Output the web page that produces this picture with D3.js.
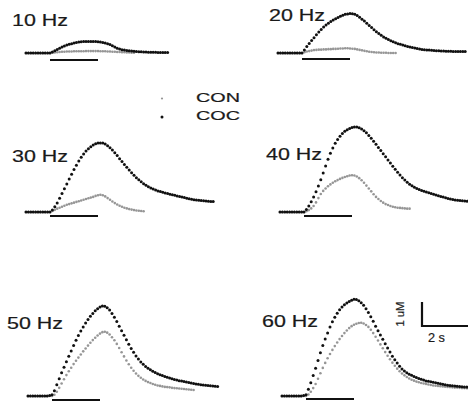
<!DOCTYPE html>
<html>
<head>
<meta charset="utf-8">
<script src="https://cdn.jsdelivr.net/npm/d3@7"></script>
<style>
  body { margin: 0; background: #fff; }
  svg { display: block; }
</style>
</head>
<body>
<div id="area"></div>
<script>
// sampling of the traces: first sample at -1 s, one sample every 0.1 s
var startTime = -1,
    sampleStep = 0.1,
    stimDuration = 2;   // s, the bar under each trace

var freqLabels = ['10 Hz', '20 Hz', '30 Hz', '40 Hz', '50 Hz', '60 Hz'];
var legendLabels = ['CON', 'COC'];
var scaleBarValue = 1,   // uM
    scaleBarTime = 2;    // s

// Ca2+ transients in uM, one value per sample
var coc10 = [0,0,0,0,0,0,0,0,0,0,
  0,0.04,0.09,0.15,0.2,0.25,0.29,0.33,0.36,0.39,
  0.42,0.44,0.46,0.47,0.48,0.48,0.48,0.48,0.48,0.48,
  0.47,0.46,0.44,0.42,0.39,0.35,0.3,0.25,0.2,0.17,
  0.14,0.12,0.1,0.09,0.08,0.07,0.06,0.05,0.05,0.04,
  0.04,0.03,0.03,0.03,0.03,0.02,0.02,0.02,0.02,0.02];
var con10 = [0,0,0,0,0,0,0,0,0,0,
  0,0.01,0.02,0.03,0.04,0.05,0.05,0.06,0.06,0.06,
  0.07,0.07,0.07,0.07,0.07,0.08,0.08,0.08,0.08,0.08,
  0.08,0.07,0.07,0.07,0.06,0.06,0.05,0.05,0.04,0.04,
  0.03,0.03,0.02,0.02,0.01,0.01];

var coc20 = [0,0,0,0,0,0,0,0,0,0,
  0,0.13,0.27,0.4,0.52,0.64,0.76,0.88,0.98,1.08,
  1.17,1.24,1.31,1.37,1.43,1.48,1.53,1.57,1.61,1.63,
  1.65,1.64,1.61,1.56,1.49,1.41,1.33,1.24,1.15,1.06,
  0.97,0.89,0.81,0.74,0.67,0.61,0.56,0.51,0.47,0.43,
  0.39,0.36,0.33,0.3,0.27,0.25,0.23,0.21,0.19,0.17,
  0.15,0.14,0.13,0.12,0.11,0.1,0.09,0.09,0.08,0.08,
  0.07,0.07,0.07,0.06,0.06,0.06,0.06,0.06,0.06];
var con20 = [0,0,0,0,0,0,0,0,0,0,
  0,0.03,0.06,0.08,0.1,0.12,0.13,0.14,0.14,0.15,
  0.15,0.16,0.16,0.17,0.17,0.18,0.19,0.19,0.2,0.2,
  0.19,0.18,0.17,0.15,0.13,0.11,0.09,0.07,0.05,0.04,
  0.03,0.02,0.02,0.01,0.01,0.01,0,0,0,0];

var coc30 = [0,0,0,0,0,0,0,0,0,0,
  0,0.08,0.22,0.38,0.57,0.77,0.97,1.17,1.37,1.57,
  1.77,1.95,2.12,2.28,2.42,2.54,2.64,2.72,2.79,2.84,
  2.87,2.88,2.87,2.83,2.76,2.68,2.58,2.47,2.35,2.22,
  2.1,1.98,1.86,1.75,1.64,1.53,1.43,1.34,1.26,1.18,
  1.11,1.05,1.0,0.96,0.92,0.88,0.85,0.82,0.79,0.77,
  0.74,0.72,0.7,0.67,0.65,0.62,0.6,0.57,0.55,0.53,
  0.51,0.5,0.49,0.48,0.47,0.46,0.45,0.44,0.44];
var con30 = [0,0,0,0,0,0,0,0,0,0,
  0,0.04,0.09,0.14,0.18,0.22,0.26,0.3,0.33,0.36,
  0.39,0.42,0.45,0.48,0.51,0.54,0.57,0.6,0.63,0.67,
  0.7,0.72,0.7,0.65,0.58,0.51,0.44,0.37,0.31,0.26,
  0.22,0.18,0.15,0.12,0.1,0.08,0.06,0.05,0.04,0.03];

var coc40 = [0,0,0,0,0,0,0,0,0,0,
  0,0.1,0.25,0.43,0.62,0.84,1.08,1.34,1.62,1.92,
  2.2,2.45,2.67,2.86,3.02,3.16,3.27,3.36,3.43,3.48,
  3.52,3.54,3.54,3.51,3.46,3.39,3.3,3.19,3.07,2.95,
  2.82,2.69,2.56,2.43,2.3,2.17,2.04,1.91,1.78,1.66,
  1.54,1.43,1.33,1.24,1.16,1.09,1.03,0.98,0.94,0.9,
  0.86,0.83,0.8,0.77,0.74,0.71,0.68,0.65,0.62,0.59,
  0.56,0.54,0.52,0.5,0.49,0.48,0.47,0.46,0.45];
var con40 = [0,0,0,0,0,0,0,0,0,0,
  0,0.03,0.08,0.15,0.25,0.4,0.58,0.75,0.88,0.98,
  1.07,1.15,1.22,1.28,1.33,1.38,1.42,1.46,1.49,1.52,
  1.53,1.52,1.48,1.41,1.32,1.22,1.1,0.98,0.86,0.74,
  0.63,0.54,0.46,0.39,0.33,0.29,0.25,0.22,0.2,0.18,
  0.17,0.16,0.15,0.14,0.14];

var coc50 = [0,0,0,0,0,0,0,0,0,0.02,
  0.05,0.22,0.47,0.72,0.97,1.2,1.43,1.66,1.88,2.1,
  2.32,2.52,2.71,2.88,3.04,3.19,3.32,3.44,3.55,3.64,
  3.71,3.75,3.74,3.68,3.58,3.44,3.28,3.1,2.91,2.72,
  2.53,2.34,2.16,1.98,1.82,1.67,1.54,1.42,1.32,1.23,
  1.16,1.09,1.03,0.98,0.93,0.89,0.85,0.81,0.78,0.75,
  0.72,0.69,0.67,0.64,0.62,0.6,0.58,0.56,0.54,0.52,
  0.5,0.49,0.47,0.46,0.45,0.44,0.43,0.42,0.41,0.4];
var con50 = [0,0,0,0,0,0,0,0,0,0,
  0,0.05,0.18,0.34,0.52,0.7,0.87,1.03,1.18,1.33,
  1.47,1.6,1.73,1.86,1.98,2.1,2.22,2.33,2.43,2.52,
  2.6,2.66,2.68,2.64,2.56,2.45,2.32,2.17,2.0,1.82,
  1.65,1.48,1.32,1.18,1.05,0.94,0.84,0.76,0.69,0.63,
  0.58,0.54,0.5,0.47,0.44,0.42,0.4,0.38,0.37,0.36,
  0.34,0.33,0.32,0.31,0.3,0.29,0.28,0.27,0.26,0.25];

var coc60 = [0,0,0,0,0,0,0,0,0,0.02,
  0.05,0.28,0.55,0.85,1.16,1.48,1.8,2.1,2.38,2.63,
  2.87,3.09,3.28,3.45,3.59,3.71,3.8,3.88,3.94,3.99,
  4.03,4.02,3.97,3.89,3.78,3.64,3.48,3.3,3.11,2.91,
  2.72,2.54,2.36,2.18,2.0,1.83,1.66,1.51,1.37,1.24,
  1.13,1.04,0.97,0.91,0.86,0.81,0.77,0.73,0.7,0.67,
  0.63,0.61,0.59,0.57,0.55,0.53,0.51,0.49,0.47,0.45,
  0.44,0.43,0.42,0.41,0.4,0.39,0.38,0.37,0.36];
var con60 = [0,0,0,0,0,0,0,0,0,0,
  0,0.06,0.18,0.33,0.5,0.72,0.95,1.17,1.38,1.57,
  1.75,1.92,2.08,2.23,2.37,2.5,2.62,2.73,2.83,2.91,
  2.97,3.01,3.04,3.05,3.02,2.96,2.88,2.76,2.62,2.47,
  2.31,2.15,1.99,1.83,1.68,1.53,1.39,1.26,1.14,1.03,
  0.94,0.86,0.79,0.73,0.68,0.64,0.6,0.57,0.54,0.52,
  0.5,0.48,0.46,0.44,0.43,0.42,0.41,0.4,0.39,0.38,
  0.37,0.36,0.35,0.35,0.34,0.33,0.33,0.32,0.32];

var width = 468,
    height = 404,
    pxPerSecond = 24,
    pxPerUM = 24;

var conColor = '#969696',
    cocColor = '#111111',
    textColor = '#1a1a1a',
    fontFamily = '"Liberation Sans", Arial, sans-serif';

// where each panel sits: stimulus onset (x0), baseline (y0), and its label box
var panels = [
  {label: freqLabels[0], coc: coc10, con: con10, x0: 50,  y0: 53,  barDy: 7, lx: 12,  ly: 26},
  {label: freqLabels[1], coc: coc20, con: con20, x0: 302, y0: 53,  barDy: 6, lx: 269, ly: 21},
  {label: freqLabels[2], coc: coc30, con: con30, x0: 50,  y0: 212, barDy: 4, lx: 12,  ly: 162},
  {label: freqLabels[3], coc: coc40, con: con40, x0: 304, y0: 212, barDy: 4, lx: 266, ly: 160},
  {label: freqLabels[4], coc: coc50, con: con50, x0: 52,  y0: 396, barDy: 4, lx: 7,   ly: 329},
  {label: freqLabels[5], coc: coc60, con: con60, x0: 306, y0: 396, barDy: 3, lx: 262, ly: 327}
];

var svg = d3.select('#area').append('svg')
    .attr('width', width)
    .attr('height', height)
    .style('background-color', '#fff');

function timeOf(i) {
  return startTime + i * sampleStep;
}

// text in the figure is a bit heavier than plain regular weight
function styleText(sel, size) {
  sel.attr('font-family', fontFamily)
     .attr('font-size', size)
     .attr('fill', textColor)
     .attr('stroke', textColor)
     .attr('stroke-width', 0.2);
}

panels.forEach(function(p) {
  var x = d3.scaleLinear()
      .domain([0, 1])
      .range([p.x0, p.x0 + pxPerSecond]);
  var y = d3.scaleLinear()
      .domain([0, 1])
      .range([p.y0, p.y0 - pxPerUM]);

  var g = svg.append('g').attr('class', 'panel');

  // stimulus bar
  g.append('line')
      .attr('x1', x(0))
      .attr('x2', x(stimDuration))
      .attr('y1', p.y0 + p.barDy)
      .attr('y2', p.y0 + p.barDy)
      .attr('stroke', cocColor)
      .attr('stroke-width', 2.2);

  // control trace first, cocaine trace on top
  g.append('g').selectAll('circle')
      .data(p.con)
      .enter().append('circle')
      .attr('cx', function(d, i) { return x(timeOf(i)); })
      .attr('cy', function(d) { return y(d); })
      .attr('r', 1.3)
      .attr('fill', conColor);

  g.append('g').selectAll('circle')
      .data(p.coc)
      .enter().append('circle')
      .attr('cx', function(d, i) { return x(timeOf(i)); })
      .attr('cy', function(d) { return y(d); })
      .attr('r', 1.5)
      .attr('fill', cocColor);

  g.append('text')
      .text(p.label)
      .attr('x', p.lx)
      .attr('y', p.ly)
      .attr('textLength', 56)
      .attr('lengthAdjust', 'spacingAndGlyphs')
      .call(styleText, 16);
});

// legend
var legend = svg.append('g').attr('class', 'legend');
legendLabels.forEach(function(name, i) {
  var ly = 101.5 + i * 18.5;
  legend.append('circle')
      .attr('cx', 162)
      .attr('cy', ly - 3)
      .attr('r', i === 0 ? 1.1 : 1.5)
      .attr('fill', i === 0 ? conColor : cocColor);
  legend.append('text')
      .text(name)
      .attr('x', 196)
      .attr('y', ly)
      .attr('textLength', 44)
      .attr('lengthAdjust', 'spacingAndGlyphs')
      .call(styleText, 12);
});

// scale bar
var sx = d3.scaleLinear().domain([0, 1]).range([422, 422 + pxPerSecond]);
var sy = d3.scaleLinear().domain([0, 1]).range([326, 326 - pxPerUM]);
var bar = svg.append('g').attr('class', 'scale-bar');
bar.append('path')
    .attr('d', 'M' + sx(0) + ',' + sy(scaleBarValue) + 'V' + sy(0) + 'H' + sx(scaleBarTime))
    .attr('fill', 'none')
    .attr('stroke', cocColor)
    .attr('stroke-width', 2.2);
bar.append('text')
    .text(scaleBarValue + ' uM')
    .attr('transform', 'translate(403.5,' + sy(scaleBarValue / 2) + ') rotate(-90)')
    .attr('text-anchor', 'middle')
    .attr('textLength', 25)
    .attr('lengthAdjust', 'spacingAndGlyphs')
    .call(styleText, 11);
bar.append('text')
    .text(scaleBarTime + ' s')
    .attr('x', 428)
    .attr('y', 342)
    .attr('textLength', 17)
    .attr('lengthAdjust', 'spacingAndGlyphs')
    .call(styleText, 12.5);
</script>
</body>
</html>
